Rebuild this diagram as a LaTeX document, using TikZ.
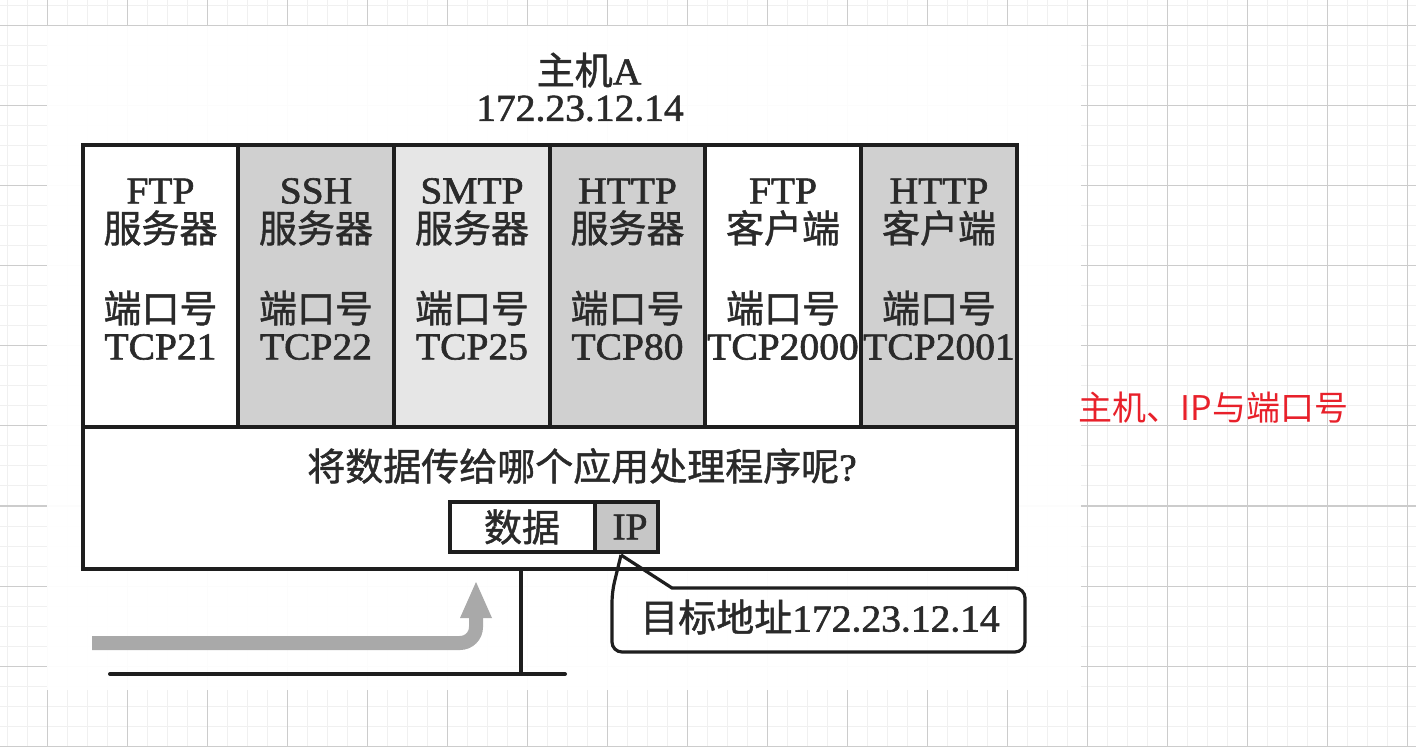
\documentclass[tikz,border=0pt]{standalone}
\usepackage{fontspec}
\setmainfont{Liberation Serif}[FakeStretch=1.04, FakeBold=1.6]
\newfontfamily\cjk{Noto Sans CJK SC}[FakeBold=1.2]
\newfontfamily\cjkplain{Noto Sans CJK SC}
\definecolor{ink}{HTML}{1E1E1E}
\definecolor{txt}{HTML}{2A2A2A}
\definecolor{gA}{HTML}{D0D0D0}
\definecolor{gB}{HTML}{E6E6E6}
\definecolor{gIP}{HTML}{C6C6C6}
\definecolor{arrowgray}{HTML}{A9A9A9}
\definecolor{redtxt}{HTML}{E8202A}
\tikzset{
  minorgrid/.style={draw=black!6, line width=0.5pt},
  majorgrid/.style={draw=black!20, line width=0.5pt},
  frame/.style={draw=ink, line width=2pt},
  thinframe/.style={draw=ink, line width=1.6pt},
  lat/.style={font=\fontsize{19}{22}\selectfont, text=txt, inner sep=0pt},
  cjkt/.style={font=\cjk\fontsize{19}{22}\selectfont, text=txt, inner sep=0pt},
  redlabel/.style={font=\cjkplain\fontsize{17}{20}\selectfont, text=redtxt, inner sep=0pt},
}
\begin{document}
\begin{tikzpicture}[x=0.5pt,y=-0.5pt]
\useasboundingbox (0,0) rectangle (1416,747);
\fill[white] (0,0) rectangle (1416,747);
% grid
\foreach \x in {7,27,...,1416} \draw[minorgrid] (\x,0) -- (\x,747);
\foreach \y in {6,26,...,747} \draw[minorgrid] (0,\y) -- (1416,\y);
\foreach \x in {47,127,...,1416} \draw[majorgrid] (\x,0) -- (\x,747);
\foreach \y in {26,106,...,747} \draw[majorgrid] (0,\y) -- (1416,\y);
% scanned picture area
\fill[white, opacity=0.95] (47,26) rectangle (1081,690);

% title
\node[cjkt] (host) at (589,70) {主机{\rmfamily A}};
\node[lat] (hostip) at (580,108.5) {172.23.12.14};

% columns
\fill[white] (83,145) rectangle (238,427);
\fill[gA] (238,145) rectangle (394,427);
\fill[gB] (394,145) rectangle (550,427);
\fill[gA] (550,145) rectangle (705,427);
\fill[white] (705,145) rectangle (861,427);
\fill[gA] (861,145) rectangle (1017,427);
\fill[white] (83,427) rectangle (1017,569);

\draw[frame] (83,145) rectangle (1017,569);
\draw[frame] (83,427) -- (1017,427);
\foreach \x in {238,394,550,705,861} \draw[frame] (\x,145) -- (\x,427);

\foreach \cx/\pr/\kind/\port/\i in {
  160.5/FTP/服务器/TCP21/1,
  316/SSH/服务器/TCP22/2,
  472/SMTP/服务器/TCP25/3,
  627.5/HTTP/服务器/TCP80/4,
  783/FTP/客户端/TCP2000/5,
  939/HTTP/客户端/TCP2001/6}{
  \node[lat] (p\i) at (\cx,191) {\pr};
  \node[cjkt] (k\i) at (\cx,228) {\kind};
  \node[cjkt] (d\i) at (\cx,308) {端口号};
  \node[lat] (t\i) at (\cx,347) {\port};
}

% question
\node[cjkt] (q) at (582,466) {将数据传给哪个应用处理程序呢{\rmfamily ?}};

% packet
\draw[thinframe, fill=white] (450,502) rectangle (595,552);
\draw[thinframe, fill=gIP] (595,502) rectangle (658,552);
\node[cjkt] (data) at (522,527) {数据};
\node[lat] (ip) at (630,527) {IP};

% callout
\coordinate (tip) at (621,555);
\draw[thinframe, line join=miter] (tip) -- (672,588) [rounded corners=5pt] -- (1025,588) -- (1025,652) -- (612,652) -- (612,592) [sharp corners] -- (tip);
\node[lat] (dest) at (820,617) {{\cjk 目标地址}172.23.12.14};

% network
\coordinate (tap) at (521,569);
\coordinate (bus) at (521,674);
\coordinate (busL) at (110,674);
\coordinate (busR) at (565,674);
\draw[frame] (tap) -- (bus);
\draw[frame, line cap=round] (busL) -- (busR);

% incoming gray arrow
\coordinate (inA) at (92,643);
\coordinate (inB) at (476,643);
\coordinate (inC) at (476,614);
\draw[arrowgray, line width=7pt, rounded corners=8pt] (inA) -- (inB) -- (inC);
\fill[arrowgray] (460,618) -- (476,582) -- (492,618) -- cycle;

% red caption
\node[redlabel] (cap) at (1213.5,408) {主机、IP与端口号};
\end{tikzpicture}
\end{document}
